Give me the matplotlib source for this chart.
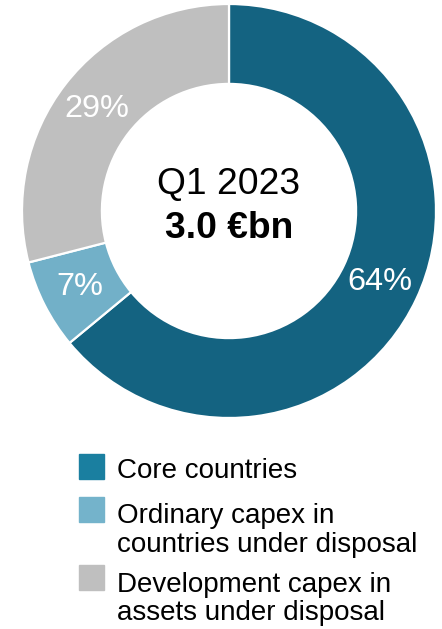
import matplotlib.pyplot as plt
from matplotlib.patches import Rectangle

plt.rcParams['font.family'] = ['Liberation Sans', 'DejaVu Sans']

labels = ['Core countries',
          'Ordinary capex in\ncountries under disposal',
          'Development capex in\nassets under disposal']
shares = [64, 7, 29]
colors = ['#146381', '#72b0c8', '#bfbfbf']
key_colors = ['#1a7fa0', '#74b3cb', '#bfbfbf']

W, H = 442, 629
fig = plt.figure(figsize=(W / 100, H / 100), dpi=100)
ax = fig.add_axes([22 / W, 211 / H, 414 / W, 414 / H])

wedges, _, autotexts = ax.pie(
    shares, colors=colors, startangle=90, counterclock=False, radius=1,
    autopct='%d%%', pctdistance=0.807,
    wedgeprops=dict(width=0.386, edgecolor='white', linewidth=1.6),
    textprops=dict(color='white', fontsize=23.4))
ax.set_xlim(-1, 1)
ax.set_ylim(-1, 1)
ax.set_aspect('equal')

ax.text(0, 0.13, 'Q1 2023', ha='center', va='center', fontsize=26.8)
ax.text(0, -0.083, '3.0 €bn', ha='center', va='center', fontsize=26.8,
        fontweight='bold')

# legend drawn by hand: square aligned with the first line of each label
box_top = [454, 497, 565]
first_baseline = [478, 523, 592]
line_step = 28.5
for lab, col, top, base in zip(labels, key_colors, box_top, first_baseline):
    fig.patches.append(Rectangle((79 / W, 1 - (top + 25) / H), 25 / W, 25 / H,
                                 transform=fig.transFigure, color=col))
    for i, line in enumerate(lab.split('\n')):
        fig.text(117 / W, 1 - (base + i * line_step) / H, line,
                 ha='left', va='baseline', fontsize=20)

fig.savefig('out.png', dpi=100)
